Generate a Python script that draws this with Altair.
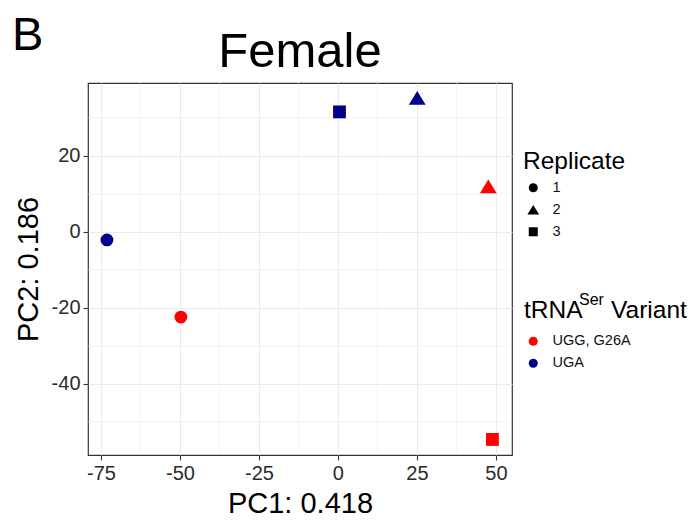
import altair as alt
import pandas as pd

# PCA scores per sample
pc1 = [-73.1, -49.7, 0.5, 25.1, 47.6, 48.9]
pc2 = [-2.1, -22.4, 31.6, 35.3, 12.0, -54.6]
variant = ["UGA", "UGG, G26A", "UGA", "UGA", "UGG, G26A", "UGG, G26A"]
replicate = ["1", "1", "3", "2", "2", "3"]

variant_levels = ["UGG, G26A", "UGA"]
variant_colors = ["#FF0000", "#00008B"]
replicate_levels = ["1", "2", "3"]
# a slightly wider triangle than Vega's built-in one
triangle = "M0,-1.08L1.31,1.08L-1.31,1.08Z"
replicate_shapes = ["circle", triangle, "square"]

x_major = [-75, -50, -25, 0, 25, 50]
x_minor = [-62.5, -37.5, -12.5, 12.5, 37.5]
y_major = [-40, -20, 0, 20]
y_minor = [-50, -30, -10, 10, 30]

FONT = "Liberation Sans"
W, H = 424, 372

df = pd.DataFrame({"PC1": pc1, "PC2": pc2, "Variant": variant, "Replicate": replicate})

xs = alt.Scale(domain=[-79.1, 55.1], nice=False, zero=False)
ys = alt.Scale(domain=[-58.7, 39.2], nice=False, zero=False)

minor_x = alt.Chart(pd.DataFrame({"v": x_minor})).mark_rule(
    color="#EBEBEB", strokeWidth=0.6
).encode(x=alt.X("v:Q", scale=xs))
minor_y = alt.Chart(pd.DataFrame({"v": y_minor})).mark_rule(
    color="#EBEBEB", strokeWidth=0.6
).encode(y=alt.Y("v:Q", scale=ys))

points = alt.Chart(df).mark_point(filled=True, opacity=1, size=165).encode(
    x=alt.X("PC1:Q", scale=xs, title="PC1: 0.418",
            axis=alt.Axis(values=x_major, labelExpr="'' + datum.value")),
    y=alt.Y("PC2:Q", scale=ys, title="PC2: 0.186",
            axis=alt.Axis(values=y_major, labelExpr="'' + datum.value")),
    color=alt.Color("Variant:N",
                    scale=alt.Scale(domain=variant_levels, range=variant_colors),
                    legend=alt.Legend(title=None, orient="none", legendX=435, legendY=251,
                                      symbolType="circle", symbolSize=81,
                                      symbolOffset=3, labelOffset=12, rowPadding=7)),
    shape=alt.Shape("Replicate:N",
                    scale=alt.Scale(domain=replicate_levels, range=replicate_shapes),
                    legend=alt.Legend(title="Replicate", orient="none", legendX=435, legendY=67,
                                      symbolSize=81, symbolFillColor="black",
                                      symbolStrokeWidth=0, symbolOffset=3, labelOffset=12,
                                      rowPadding=7, titlePadding=6)),
)

# panel letter
letter = alt.Chart(pd.DataFrame({"t": ["B"]})).mark_text(
    font=FONT, fontSize=47, align="left", baseline="alphabetic", color="black"
).encode(x=alt.value(-76), y=alt.value(-33), text="t:N")

# chart title, centred over the plot
heading = alt.Chart(pd.DataFrame({"t": ["Female"]})).mark_text(
    font=FONT, fontSize=49, align="center", baseline="alphabetic", color="black"
).encode(x=alt.value(W / 2), y=alt.value(-16), text="t:N")

legend_title = alt.Chart(pd.DataFrame({
    "t": ["tRNA", "Ser", "Variant"],
    "px": [436, 491, 523],
    "py": [235, 222, 235],
    "fs": [24.5, 16, 24.5],
})).mark_text(font=FONT, align="left", baseline="alphabetic", color="black").encode(
    x=alt.X("px:Q", scale=None), y=alt.Y("py:Q", scale=None), text="t:N",
    size=alt.Size("fs:Q", scale=None, legend=None),
)

chart = alt.layer(minor_x, minor_y, points, letter, heading, legend_title).properties(
    width=W, height=H,
    autosize=alt.AutoSizeParams(type="none"),
    padding={"left": 88, "top": 83, "right": 186, "bottom": 66},
).configure_view(
    stroke="#333333", strokeWidth=1.2
).configure_axis(
    labelFont=FONT, labelFontSize=20, labelColor="#2b2b2b",
    titleFont=FONT, titleFontSize=29, titleFontWeight="normal", titleColor="black",
    tickColor="#333333", tickSize=5, tickWidth=1.1, domain=False,
    gridColor="#EBEBEB", gridWidth=1.1, labelPadding=3,
).configure_axisX(titlePadding=6).configure_axisY(titlePadding=8).configure_legend(
    titleFont=FONT, titleFontSize=24.5, titleFontWeight="normal", titleColor="black",
    labelFont=FONT, labelFontSize=14.5, labelColor="#111111", padding=0,
)

chart.save("out.html", embed_options={"renderer": "svg", "actions": False})
